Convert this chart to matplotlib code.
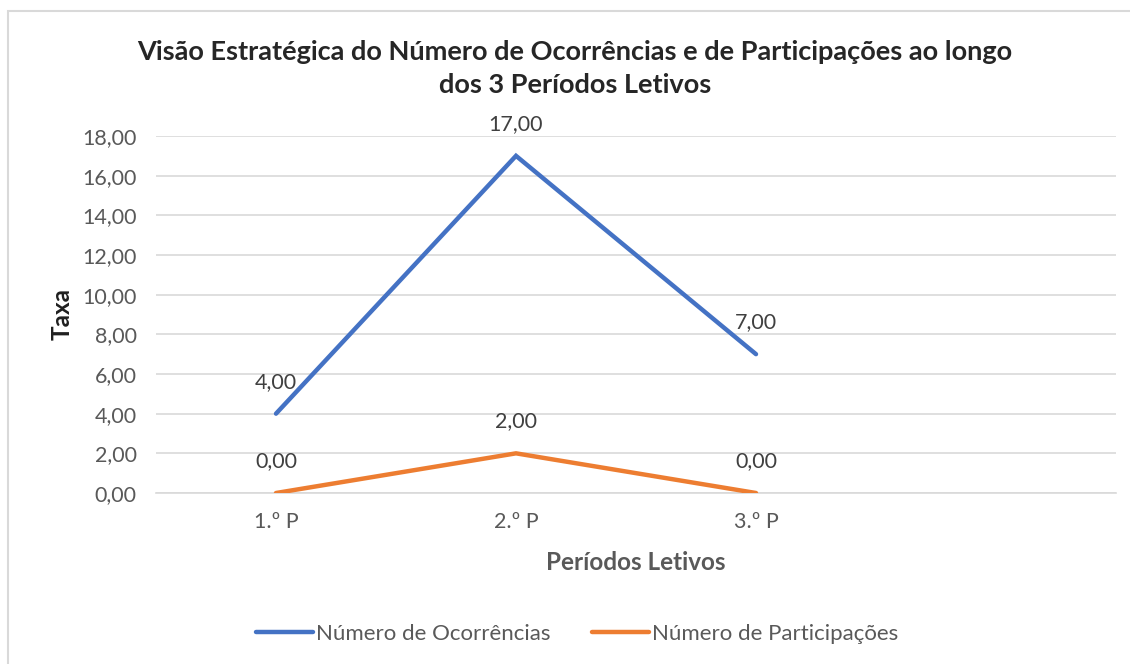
import matplotlib
matplotlib.use("Agg")
import matplotlib.pyplot as plt
from matplotlib.patches import Rectangle

categories = ["1.º P", "2.º P", "3.º P"]
ocorrencias = [4, 17, 7]
participacoes = [0, 2, 0]
series_names = ["Número de Ocorrências", "Número de Participações"]
yticks = [0, 2, 4, 6, 8, 10, 12, 14, 16, 18]

FONT = ["Lato", "DejaVu Sans"]
plt.rcParams["font.family"] = FONT

W, H = 1130, 664
fig = plt.figure(figsize=(W / 100, H / 100), dpi=100)
fig.patch.set_facecolor("white")

# outer chart border (cropped on right/bottom)
fig.add_artist(Rectangle((8 / W, -0.05), 1.2, 1 - 11 / H + 0.05,
                         transform=fig.transFigure, fill=False,
                         edgecolor="#D9D9D9", linewidth=1.5))

left, right = 156 / W, 1116 / W
bottom, top = 1 - 493 / H, 1 - 136 / H
ax = fig.add_axes([left, bottom, right - left, top - bottom])

x = list(range(len(categories)))
blue, orange = "#4472C4", "#ED7D31"
ax.plot(x, ocorrencias, color=blue, linewidth=3.2, solid_capstyle="round",
        solid_joinstyle="miter", label=series_names[0], zorder=3)
ax.plot(x, participacoes, color=orange, linewidth=3.2, solid_capstyle="round",
        solid_joinstyle="miter", label=series_names[1], zorder=3)

def fmt(v):
    return f"{v:.2f}".replace(".", ",")

TXT = 15.5
for xs, ys in ((x, ocorrencias), (x, participacoes)):
    for xi, yi in zip(xs, ys):
        ax.annotate(fmt(yi), (xi, yi), xytext=(0, 23), textcoords="offset points",
                    ha="center", va="center", fontsize=TXT, color="#404040")

ax.set_xlim(-0.5, 3.5)
ax.set_ylim(0, 18)
ax.set_yticks(yticks)
ax.set_yticklabels([fmt(v) for v in yticks])
ax.set_xticks(x)
ax.set_xticklabels(categories)
ax.tick_params(axis="both", length=0, labelsize=TXT, labelcolor="#595959")
ax.tick_params(axis="y", pad=14)
ax.tick_params(axis="x", pad=14)
ax.grid(axis="y", color="#D9D9D9", linewidth=1.2)
ax.set_axisbelow(True)
for s in ["top", "right", "left"]:
    ax.spines[s].set_visible(False)
ax.spines["bottom"].set_color("#D9D9D9")
ax.spines["bottom"].set_linewidth(1.2)

ax.set_ylabel("Taxa", fontsize=17.5, fontweight="bold", color="#1F1F1F")
ax.yaxis.set_label_coords(-(156 - 62) / 960, 0.5)
ax.set_xlabel("Períodos Letivos", fontsize=17.5, fontweight="bold", color="#595959")
ax.xaxis.set_label_coords(0.5, -(563 - 493) / 357)
ax.xaxis.label.set_va("center")
ax.yaxis.label.set_va("center")

fig.text(575 / W, 1 - 68.5 / H,
         "Visão Estratégica do Número de Ocorrências e de Participações ao longo\ndos 3 Períodos Letivos",
         ha="center", va="center", fontsize=19.5, fontweight="bold", color="#262626",
         linespacing=1.45)

leg = fig.legend(loc="center", bbox_to_anchor=(577 / W, 1 - 634 / H), ncol=2,
                 frameon=False, fontsize=16, handlelength=2.55, handletextpad=0.12,
                 columnspacing=1.9)
for t in leg.get_texts():
    t.set_color("#595959")

fig.savefig("out.png", dpi=100)
